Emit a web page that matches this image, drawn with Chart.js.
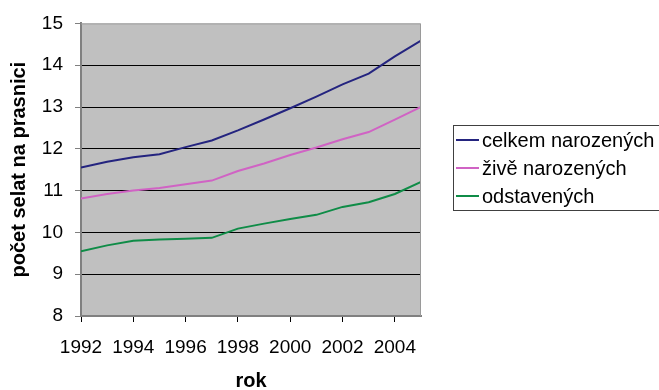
<!DOCTYPE html>
<html>
<head>
<meta charset="utf-8">
<script src="https://cdn.jsdelivr.net/npm/chart.js@4/dist/chart.umd.min.js"></script>
<style>
  html, body { margin: 0; padding: 0; background: #fff; }
  #wrap { width: 659px; height: 390px; position: relative; }
</style>
</head>
<body>
<div id="wrap"><canvas id="c" width="659" height="390"></canvas></div>
<script>
// Years 1992–2005
const years = [1992, 1993, 1994, 1995, 1996, 1997, 1998, 1999, 2000, 2001, 2002, 2003, 2004, 2005];

// Piglets per sow
const celkemNarozenych = [11.55, 11.69, 11.80, 11.87, 12.04, 12.20, 12.44, 12.70, 12.97, 13.25, 13.54, 13.80, 14.21, 14.59];
const ziveNarozenych   = [10.81, 10.92, 11.00, 11.06, 11.15, 11.24, 11.47, 11.65, 11.85, 12.03, 12.23, 12.40, 12.70, 13.00];
const odstavenych      = [9.55, 9.69, 9.80, 9.83, 9.85, 9.87, 10.09, 10.21, 10.32, 10.42, 10.61, 10.72, 10.92, 11.21];

const seriesNames = ['celkem narozených', 'živě narozených', 'odstavených'];
const seriesColors = ['#24247f', '#d063c4', '#0f8c47'];

const yTitle = 'počet selat na prasnici';
const xTitle = 'rok';

const FONT = "'Liberation Sans', Arial, sans-serif";

function toPoints(vals) {
  return vals.map((v, i) => ({ x: years[i], y: v }));
}

// Grey plot area with thin grey frame
const plotBackground = {
  id: 'plotBackground',
  beforeDraw(chart) {
    const { ctx, chartArea: a } = chart;
    ctx.save();
    ctx.fillStyle = '#c0c0c0';
    ctx.fillRect(a.left, a.top, a.right - a.left, a.bottom - a.top);
    ctx.restore();
  },
  afterDatasetsDraw(chart) {
    const { ctx, chartArea: a } = chart;
    ctx.save();
    ctx.strokeStyle = '#9a9a9a';
    ctx.lineWidth = 1;
    ctx.beginPath();
    ctx.moveTo(a.left, a.top + 0.5);
    ctx.lineTo(a.right - 0.5, a.top + 0.5);
    ctx.lineTo(a.right - 0.5, a.bottom);
    ctx.stroke();
    ctx.restore();
  }
};

// Boxed legend on the right
const boxLegend = {
  id: 'boxLegend',
  afterDraw(chart) {
    const { ctx } = chart;
    const x0 = 453, y0 = 125, w = 210, h = 85;
    ctx.save();
    ctx.fillStyle = '#ffffff';
    ctx.fillRect(x0, y0, w, h);
    ctx.strokeStyle = '#404040';
    ctx.lineWidth = 1;
    ctx.strokeRect(x0 + 0.5, y0 + 0.5, w, h);
    ctx.font = '20px ' + FONT;
    ctx.textBaseline = 'middle';
    chart.data.datasets.forEach((ds, i) => {
      const yy = y0 + 15 + i * 28;
      ctx.strokeStyle = ds.borderColor;
      ctx.lineWidth = 2;
      ctx.beginPath();
      ctx.moveTo(456, yy);
      ctx.lineTo(479, yy);
      ctx.stroke();
      ctx.fillStyle = '#000';
      ctx.fillText(ds.label, 482, yy + 1);
    });
    ctx.restore();
  }
};

new Chart(document.getElementById('c'), {
  type: 'line',
  data: {
    datasets: [
      { label: seriesNames[0], data: toPoints(celkemNarozenych), borderColor: seriesColors[0] },
      { label: seriesNames[1], data: toPoints(ziveNarozenych), borderColor: seriesColors[1] },
      { label: seriesNames[2], data: toPoints(odstavenych), borderColor: seriesColors[2] }
    ]
  },
  options: {
    responsive: false,
    animation: false,
    devicePixelRatio: 1,
    layout: { padding: { left: 0, right: 238, top: 19, bottom: 0 } },
    elements: {
      line: { borderWidth: 2, tension: 0 },
      point: { radius: 0 }
    },
    plugins: {
      legend: { display: false },
      tooltip: { enabled: false }
    },
    scales: {
      x: {
        type: 'linear',
        min: 1992,
        max: 2005,
        afterFit(s) { s.height = 74; },
        afterBuildTicks(s) {
          s.ticks = [1992, 1994, 1996, 1998, 2000, 2002, 2004].map(v => ({ value: v }));
        },
        ticks: {
          callback: v => String(v),
          color: '#000',
          font: { family: FONT, size: 19 },
          padding: 14,
          maxRotation: 0,
          autoSkip: false
        },
        grid: { drawOnChartArea: false, drawTicks: true, tickLength: 6, tickColor: '#000' },
        border: { color: '#808080', width: 2 },
        title: {
          display: true,
          text: xTitle,
          color: '#000',
          font: { family: FONT, size: 20, weight: 'bold' },
          padding: { top: 14, bottom: -3 }
        }
      },
      y: {
        min: 8,
        max: 15,
        afterFit(s) { s.width = 81; },
        ticks: {
          stepSize: 1,
          color: '#000',
          font: { family: FONT, size: 19 },
          padding: 12
        },
        grid: {
          color: ctx => (ctx.tick && (ctx.tick.value === 15 || ctx.tick.value === 8)) ? 'rgba(0,0,0,0)' : '#000',
          tickColor: '#808080',
          tickLength: 6,
          lineWidth: 1
        },
        border: { color: '#808080', width: 2 },
        title: {
          display: true,
          text: yTitle,
          color: '#000',
          font: { family: FONT, size: 20, weight: 'bold' },
          padding: { top: 7, bottom: 0 }
        }
      }
    }
  },
  plugins: [plotBackground, boxLegend]
});
</script>
</body>
</html>
